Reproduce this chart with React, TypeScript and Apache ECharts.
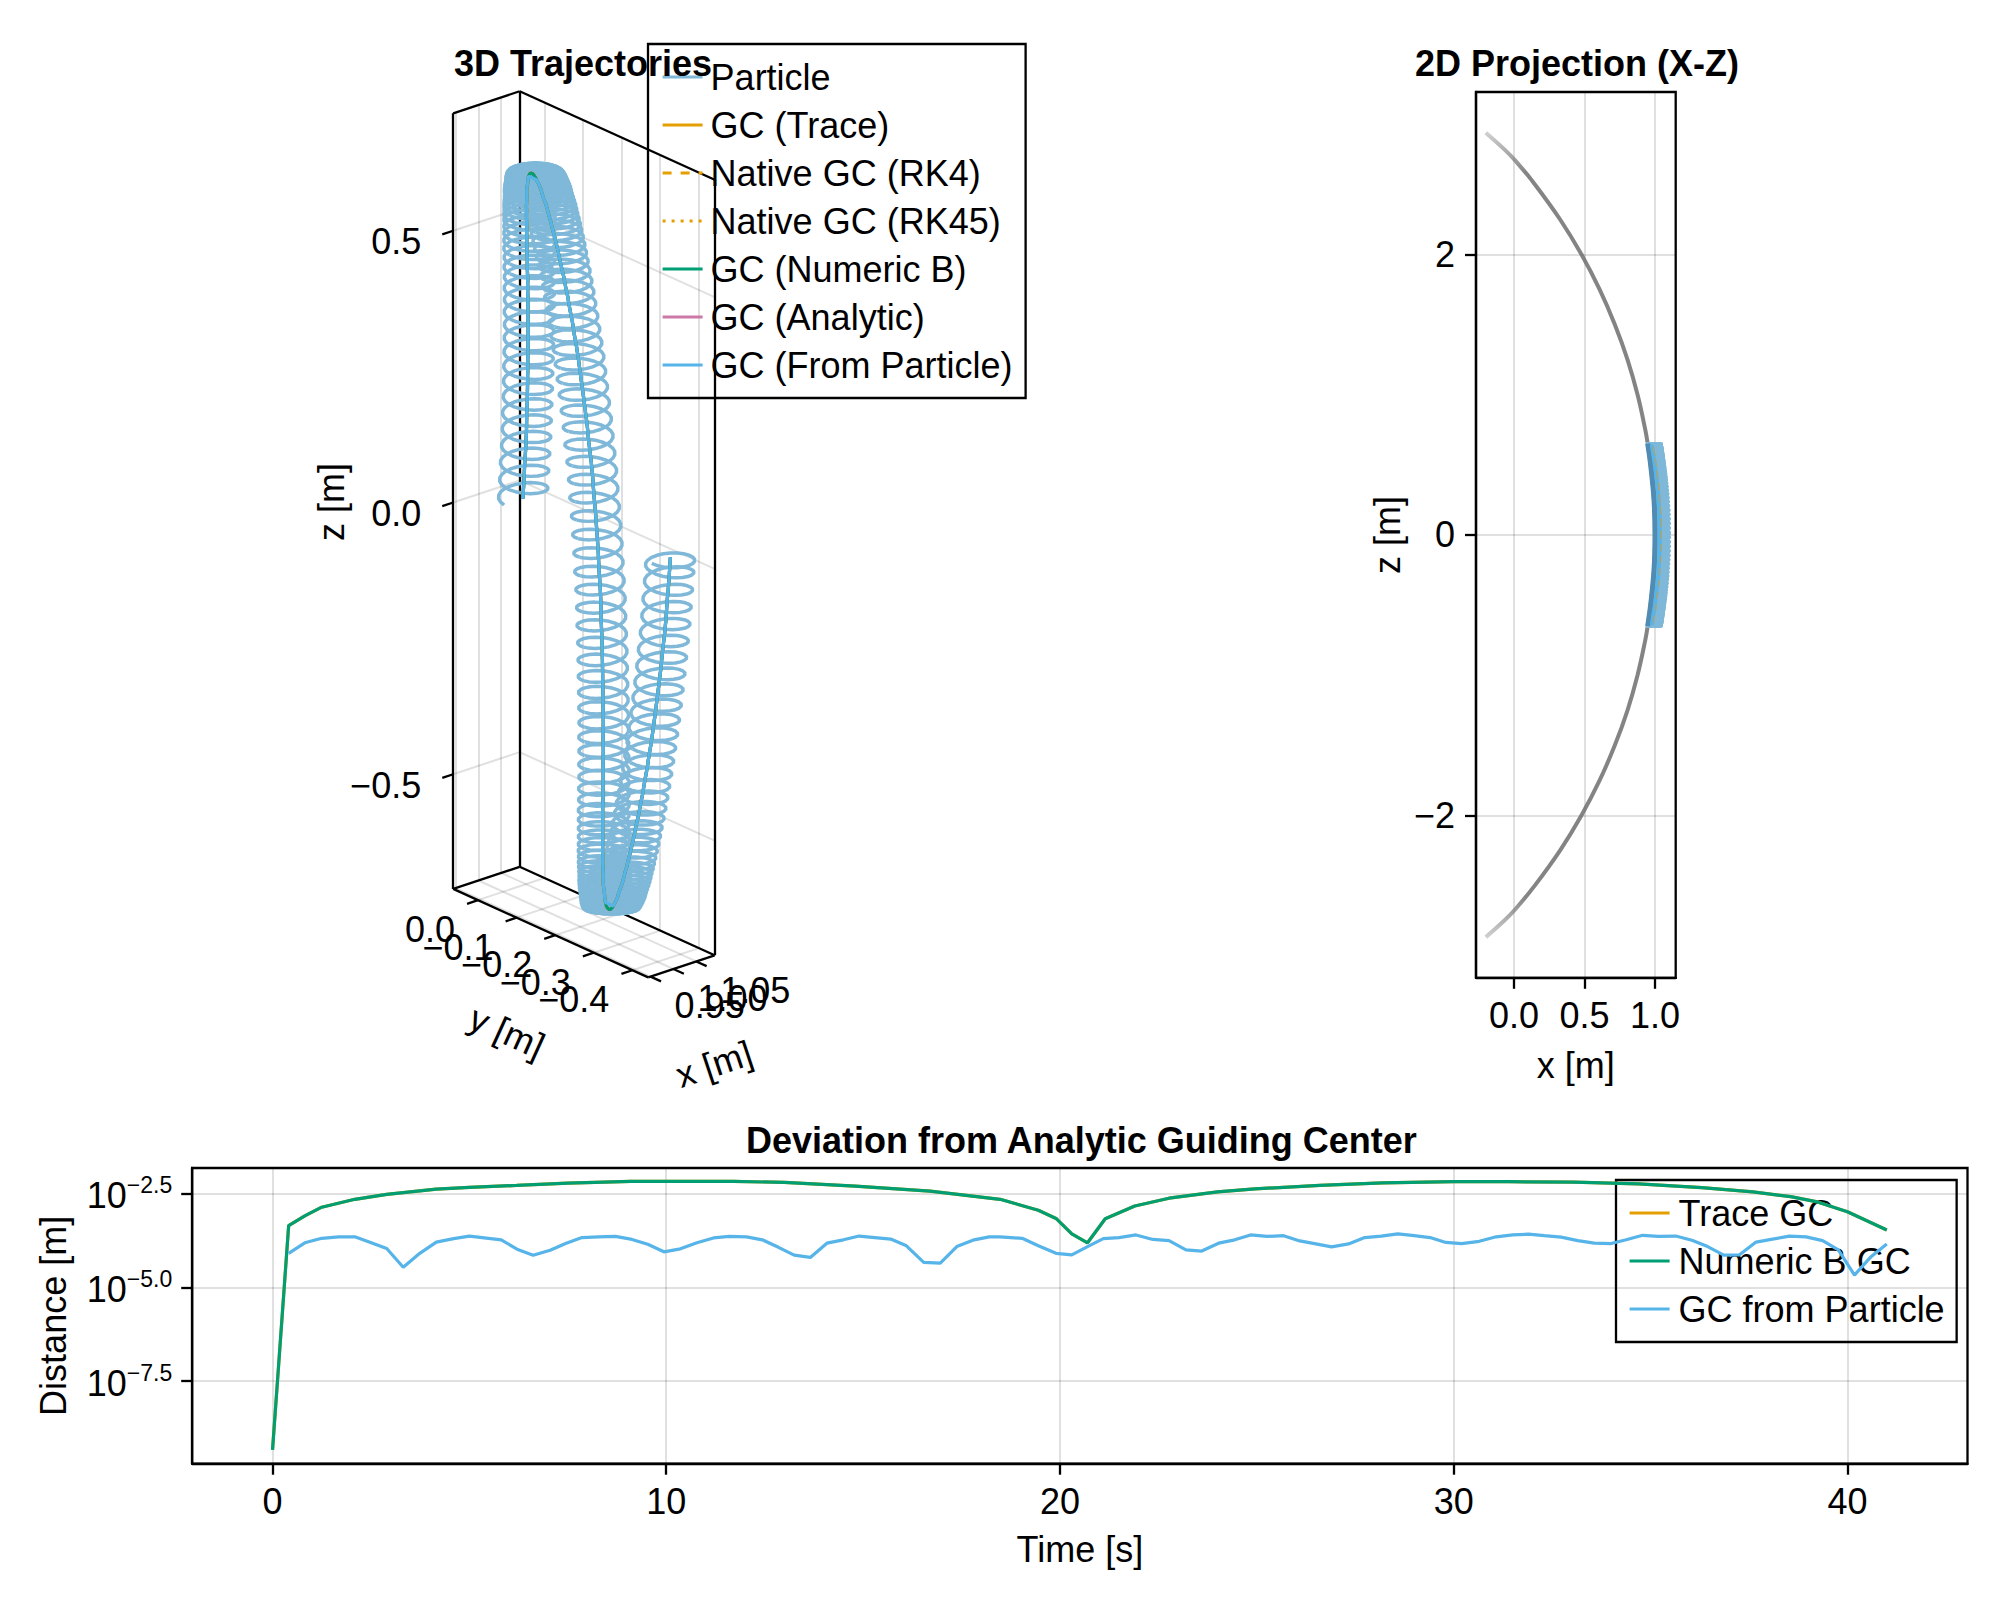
import React, { useEffect, useRef } from "react";
import * as echarts from "echarts";

const FONT = "Liberation Sans";
const PARTICLE = "#7fb8d8";
const ORANGE = "#E69F00";
const GREEN = "#009E73";
const PINK = "#CC79A7";
const SKY = "#56B4E9";
const GRID = "rgba(0,0,0,0.12)";
const SPINE = 2.3;
const LINE = 3.2;

// 3D panel: axis limits and ticks
const xLim = [0.9447, 1.0904];
const yLim = [0.0642, -0.441];
const zLim = [-0.711, 0.716];
const xTicks3D = [0.95, 1.0, 1.05];
const yTicks3D = [0.0, -0.1, -0.2, -0.3, -0.4];
const zTicks3D = [0.5, 0.0, -0.5];

// one entry per gyration: the guiding centre read along the three legs
const leg1X = [1.043,1.043,1.042,1.042,1.041,1.039,1.038,1.036,1.034,1.032,1.03,1.028,1.025,1.023,1.02,1.018,1.015,1.013,1.01,1.008,1.006,1.004,1.002,1,0.999,0.997,0.996,0.995,0.994,0.992,0.991,0.99,0.99,0.989,0.988,0.987,0.986,0.986,0.985,0.985,0.985,0.985,0.985];
const leg1Y = [0,-0.003,-0.006,-0.0089,-0.0119,-0.0148,-0.0177,-0.0206,-0.0234,-0.0262,-0.0289,-0.0317,-0.0343,-0.037,-0.0397,-0.0423,-0.0447,-0.0472,-0.0496,-0.0518,-0.054,-0.0562,-0.0583,-0.0602,-0.0619,-0.0637,-0.0653,-0.067,-0.0685,-0.0702,-0.0718,-0.0735,-0.075,-0.0767,-0.0785,-0.0802,-0.0822,-0.084,-0.0855,-0.0874,-0.0885,-0.0902,-0.092];
const leg1Z = [0,0.033,0.066,0.098,0.13,0.161,0.192,0.222,0.251,0.279,0.306,0.332,0.357,0.381,0.404,0.426,0.446,0.465,0.483,0.499,0.514,0.528,0.541,0.552,0.562,0.571,0.579,0.587,0.594,0.601,0.607,0.613,0.618,0.623,0.628,0.632,0.636,0.639,0.641,0.643,0.644,0.6445,0.645];

const leg2X = [0.985,0.985,0.985,0.985,0.986,0.986,0.987,0.988,0.989,0.99,0.99,0.991,0.992,0.994,0.995,0.996,0.997,0.999,1,1.002,1.004,1.006,1.008,1.01,1.013,1.015,1.018,1.02,1.023,1.025,1.028,1.03,1.032,1.034,1.036,1.038,1.039,1.041,1.042,1.042,1.043,1.043,
  1.043,1.042,1.042,1.041,1.039,1.038,1.036,1.034,1.032,1.03,1.028,1.025,1.023,1.02,1.018,1.015,1.013,1.01,1.008,1.006,1.004,1.002,1,0.999,0.997,0.996,0.995,0.994,0.992,0.991,0.99,0.99,0.989,0.988,0.987,0.986,0.986,0.985,0.985,0.985,0.985,0.985];
const leg2Y = [-0.094,-0.0958,-0.097,-0.0991,-0.1007,-0.1027,-0.1048,-0.1067,-0.1086,-0.1105,-0.1121,-0.114,-0.1157,-0.1175,-0.1192,-0.121,-0.1228,-0.1247,-0.1266,-0.1286,-0.1309,-0.1333,-0.1357,-0.1381,-0.1407,-0.1434,-0.146,-0.1488,-0.1518,-0.1547,-0.1576,-0.1606,-0.1635,-0.1666,-0.1696,-0.1728,-0.1759,-0.1791,-0.1823,-0.1855,-0.1887,-0.192,
  -0.1953,-0.1985,-0.2017,-0.2049,-0.2081,-0.2112,-0.2144,-0.2174,-0.2205,-0.2234,-0.2264,-0.2293,-0.2322,-0.2352,-0.238,-0.2406,-0.2433,-0.2459,-0.2483,-0.2507,-0.2531,-0.2554,-0.2574,-0.2593,-0.2612,-0.263,-0.2648,-0.2665,-0.2683,-0.27,-0.2719,-0.2735,-0.2754,-0.2773,-0.2792,-0.2813,-0.2833,-0.2849,-0.287,-0.2882,-0.29,-0.292];
const leg2Z = [0.6445,0.644,0.643,0.641,0.639,0.636,0.632,0.628,0.623,0.618,0.613,0.607,0.601,0.594,0.587,0.579,0.571,0.562,0.552,0.541,0.528,0.514,0.499,0.483,0.465,0.446,0.426,0.404,0.381,0.357,0.332,0.306,0.279,0.251,0.222,0.192,0.161,0.13,0.098,0.066,0.033,0,
  -0.033,-0.066,-0.098,-0.13,-0.161,-0.192,-0.222,-0.251,-0.279,-0.306,-0.332,-0.357,-0.381,-0.404,-0.426,-0.446,-0.465,-0.483,-0.499,-0.514,-0.528,-0.541,-0.552,-0.562,-0.571,-0.579,-0.587,-0.594,-0.601,-0.607,-0.613,-0.618,-0.623,-0.628,-0.632,-0.636,-0.639,-0.641,-0.643,-0.644,-0.6445,-0.645];

const leg3X = [0.985,0.985,0.985,0.985,0.986,0.986,0.987,0.988,0.989,0.99,0.99,0.991,0.992,0.994,0.995,0.996,0.997,0.999,1,1.002,1.004,1.006,1.008,1.01,1.013,1.015,1.018,1.02,1.023,1.025,1.028,1.03,1.032,1.034,1.036,1.038,1.039,1.041,1.042,1.042,1.043,1.043,1.043];
const leg3Y = [-0.2938,-0.2954,-0.2965,-0.2983,-0.2998,-0.3015,-0.3034,-0.3051,-0.3068,-0.3085,-0.3099,-0.3116,-0.3131,-0.3148,-0.3162,-0.3179,-0.3194,-0.3211,-0.3228,-0.3246,-0.3267,-0.3288,-0.3309,-0.333,-0.3354,-0.3378,-0.3401,-0.3426,-0.3452,-0.3478,-0.3503,-0.3531,-0.3557,-0.3584,-0.3611,-0.3639,-0.3667,-0.3695,-0.3724,-0.3752,-0.3781,-0.381,-0.3825];
const leg3Z = [-0.6445,-0.644,-0.643,-0.641,-0.639,-0.636,-0.632,-0.628,-0.623,-0.618,-0.613,-0.607,-0.601,-0.594,-0.587,-0.579,-0.571,-0.562,-0.552,-0.541,-0.528,-0.514,-0.499,-0.483,-0.465,-0.446,-0.426,-0.404,-0.381,-0.357,-0.332,-0.306,-0.279,-0.251,-0.222,-0.192,-0.161,-0.13,-0.098,-0.066,-0.033,0,0.016];

// X-Z panel: field line
const fieldX = [-0.2,-0.07,0.008,0.147,0.326,0.478,0.607,0.715,0.805,0.876,0.931,0.948,0.969,0.993,1,0.993,0.969,0.948,0.931,0.876,0.805,0.715,0.607,0.478,0.326,0.147,0.008,-0.07,-0.2];
const fieldZ = [2.867,2.75,2.67,2.5,2.25,2,1.75,1.5,1.25,1,0.75,0.65,0.5,0.25,0,-0.25,-0.5,-0.65,-0.75,-1,-1.25,-1.5,-1.75,-2,-2.25,-2.5,-2.67,-2.75,-2.867];
const xzXTicks = [0, 0.5, 1];
const xzZTicks = [-2, 0, 2];

// deviation panel, log10 of the distance
const numericT = [0,0.41,0.82,1.25,2.09,2.9,4.16,5,6.2,7.5,9.1,10,11.7,13,14.8,16.7,18.48,19.45,19.9,20.3,20.7,21.15,21.9,22.77,24,24.95,26.6,28.2,30,31.4,33.05,34.7,36.3,37.6,38.56,39.2,40,41];
const numericLog = [-9.33,-3.35,-3.09,-2.86,-2.65,-2.52,-2.38,-2.33,-2.28,-2.22,-2.17,-2.17,-2.17,-2.2,-2.3,-2.43,-2.65,-2.94,-3.16,-3.57,-3.81,-3.17,-2.83,-2.62,-2.45,-2.37,-2.28,-2.21,-2.18,-2.18,-2.19,-2.24,-2.34,-2.45,-2.58,-2.71,-2.98,-3.47];
const fromParticleT = [0.41,0.82,1.25,1.68,2.09,2.49,2.9,3.32,3.74,4.16,4.6,5,5.81,6.21,6.62,7.05,7.46,7.86,8.28,8.71,9.13,9.53,9.94,10.36,10.78,11.2,11.6,12.04,12.44,12.85,13.25,13.66,14.08,14.5,14.9,15.7,16.1,16.54,16.96,17.38,17.82,18.2,18.48,19.04,19.45,19.9,20.3,20.7,21.1,21.5,21.93,22.36,22.77,23.2,23.6,24.03,24.44,24.84,25.26,25.68,26.09,26.5,26.9,27.33,27.74,28.16,28.58,29,29.4,29.8,30.2,30.65,31.08,31.5,31.9,32.3,32.73,33.15,33.57,34,34.38,34.8,35.2,35.64,36.05,36.45,36.86,37.26,37.68,38.1,38.53,38.95,39.37,39.77,40.18,40.6,41];
const fromParticleLog = [-4.09,-3.81,-3.69,-3.65,-3.65,-3.8,-3.96,-4.46,-4.09,-3.79,-3.7,-3.63,-3.73,-3.98,-4.14,-4.01,-3.82,-3.67,-3.65,-3.64,-3.72,-3.85,-4.05,-3.97,-3.81,-3.68,-3.64,-3.65,-3.73,-3.93,-4.14,-4.2,-3.82,-3.73,-3.63,-3.71,-3.89,-4.33,-4.35,-3.91,-3.73,-3.65,-3.65,-3.69,-3.89,-4.09,-4.13,-3.91,-3.7,-3.67,-3.6,-3.72,-3.75,-4,-4.03,-3.82,-3.73,-3.6,-3.64,-3.62,-3.76,-3.84,-3.92,-3.84,-3.67,-3.63,-3.57,-3.62,-3.67,-3.8,-3.83,-3.77,-3.65,-3.6,-3.58,-3.62,-3.66,-3.75,-3.82,-3.83,-3.73,-3.61,-3.64,-3.63,-3.74,-3.91,-4.14,-4.13,-3.79,-3.71,-3.63,-3.65,-3.75,-4,-4.67,-4.18,-3.84];
const devTimeTicks = [0, 10, 20, 30, 40];
const devLogTicks = [-7.5, -5, -2.5];

const ringX = [...leg1X, ...leg2X, ...leg3X];
const ringY = [...leg1Y, ...leg2Y, ...leg3Y];
const ringZ = [...leg1Z, ...leg2Z, ...leg3Z];

// the orthographic camera of the 3D panel, in page pixels
function project(x: number, y: number, z: number): [number, number] {
  const dx = x - xLim[0];
  const dy = yLim[0] - y;
  const dz = z - zLim[0];
  return [453.2 + dy * 386 + dx * 456, 888.9 + dy * 175.2 - dx * 151.7 - dz * 543.5];
}

const ringCount = ringX.length;
const STEPS = 22;

function renderRing3D(params: any, api: any) {
  const i = params.dataIndex;
  if (i >= ringCount - 1) return null;
  const pts: number[][] = [];
  for (let s = 0; s <= STEPS; s++) {
    const f = s / STEPS;
    const a = 2 * Math.PI * f;
    const cz = ringZ[i] + (ringZ[i + 1] - ringZ[i]) * f;
    const u = (cz / 0.645) * (cz / 0.645);
    const cx = ringX[i] + (ringX[i + 1] - ringX[i]) * f + (cz > 0 ? 0.009 : 0.004) * u;
    const cy = ringY[i] + (ringY[i + 1] - ringY[i]) * f;
    const r = 0.041 + 0.003 * u;
    const squash = cz > 0 ? 1 - 0.15 * u : 1 - 0.5 * u * u * u;
    const c = project(cx, cy, cz);
    const q = project(cx - r * Math.cos(a), cy + r * Math.sin(a), cz);
    pts.push(api.coord([q[0], c[1] + (q[1] - c[1]) * squash]));
  }
  return { type: "polyline", shape: { points: pts }, style: { fill: "none", stroke: PARTICLE, lineWidth: 3.5, lineJoin: "round" } };
}

function renderRingXZ(params: any, api: any) {
  const i = params.dataIndex;
  if (i >= ringCount - 1) return null;
  const pts: number[][] = [];
  for (let s = 0; s <= STEPS; s++) {
    const f = s / STEPS;
    const a = 2 * Math.PI * f;
    const cx = ringX[i] + (ringX[i + 1] - ringX[i]) * f;
    const cz = ringZ[i] + (ringZ[i + 1] - ringZ[i]) * f;
    pts.push(api.coord([cx + 0.005 - 0.05 * Math.cos(a), cz]));
  }
  return { type: "polyline", shape: { points: pts }, style: { fill: "none", stroke: PARTICLE, lineWidth: 4.5, lineJoin: "round" } };
}

const seg = (a: number[], b: number[]) => ({
  coords: [project(a[0], a[1], a[2]), project(b[0], b[1], b[2])],
});

function gridSegments() {
  const [x0, x1] = xLim;
  const [y0, y1] = yLim;
  const [z0, z1] = zLim;
  const out: any[] = [];
  xTicks3D.forEach((x) => {
    out.push(seg([x, y0, z0], [x, y0, z1]), seg([x, y0, z0], [x, y1, z0]));
  });
  yTicks3D.forEach((y) => {
    out.push(seg([x1, y, z0], [x1, y, z1]), seg([x0, y, z0], [x1, y, z0]));
  });
  zTicks3D.forEach((z) => {
    out.push(seg([x0, y0, z], [x1, y0, z]), seg([x1, y0, z], [x1, y1, z]));
  });
  return out;
}

function frameSegments() {
  const [x0, x1] = xLim;
  const [y0, y1] = yLim;
  const [z0, z1] = zLim;
  return [
    seg([x0, y0, z0], [x0, y0, z1]),
    seg([x1, y0, z0], [x1, y0, z1]),
    seg([x1, y1, z0], [x1, y1, z1]),
    seg([x0, y0, z1], [x1, y0, z1]),
    seg([x1, y0, z1], [x1, y1, z1]),
    seg([x0, y0, z0], [x1, y0, z0]),
    seg([x1, y0, z0], [x1, y1, z0]),
    seg([x0, y0, z0], [x0, y1, z0]),
    seg([x0, y1, z0], [x1, y1, z0]),
  ];
}

function tickSegments() {
  const [x0] = xLim;
  const [y0, y1] = yLim;
  const [z0] = zLim;
  const out: any[] = [];
  zTicks3D.forEach((z) => out.push(seg([x0, y0, z], [x0 - 0.024, y0, z])));
  yTicks3D.forEach((y) => out.push(seg([x0, y, z0], [x0 - 0.024, y, z0])));
  xTicks3D.forEach((x) => out.push(seg([x, y1, z0], [x, y1 - 0.027, z0])));
  return out;
}

const minusText = (s: string) => s.replace("-", "\u2212");

function labels3D() {
  const [x0] = xLim;
  const [y0, y1] = yLim;
  const [z0] = zLim;
  const text = (t: string, p: number[], align: string, rotation = 0) => ({
    type: "text",
    x: p[0],
    y: p[1],
    rotation,
    z: 20,
    style: { text: t, fill: "#000", font: `36px "${FONT}"`, align, verticalAlign: "middle" },
  });
  const out: any[] = [];
  zTicks3D.forEach((z) => {
    const p = project(x0, y0, z);
    out.push(text(minusText(z.toFixed(1)), [p[0] - 32, p[1] + 11], "right"));
  });
  yTicks3D.forEach((y) => {
    const p = project(x0, y, z0);
    out.push(text(minusText(y.toFixed(1)), [p[0] - 23, p[1] + 29.5], "right"));
  });
  xTicks3D.forEach((x) => {
    const p = project(x, y1, z0);
    out.push(text(x.toFixed(2), [p[0] + 24, p[1] + 29], "left"));
  });
  out.push(text("y [m]", [507, 1032], "center", -0.426));
  out.push(text("x [m]", [714, 1064], "center", 0.32));
  out.push(text("z [m]", [331, 502], "center", Math.PI / 2));
  return out;
}

const axisText = { fontFamily: FONT, fontSize: 36, color: "#000" };
const tickStyle = { show: true, length: 11, lineStyle: { color: "#000", width: SPINE } };
const axisLine = { show: true, onZero: false, lineStyle: { color: "#000", width: SPINE } };
const lineOf = (name: string, data: any[], color: string, z: number, extra: any = {}) => ({
  name,
  type: "line",
  xAxisIndex: 0,
  yAxisIndex: 0,
  data,
  showSymbol: false,
  symbol: "none",
  clip: false,
  silent: true,
  z,
  lineStyle: { color, width: LINE, ...extra },
  itemStyle: { color },
});

export default function App() {
  const ref = useRef<HTMLDivElement>(null);
  useEffect(() => {
    document.body.style.margin = "0";
    const chart = echarts.init(ref.current!, undefined, { renderer: "svg" });
    const gc3D = ringX.map((x, i) => project(x, ringY[i], ringZ[i]));
    const gcSmoothed = gc3D.filter((_, i) => Math.abs(ringZ[i]) <= 0.636);
    const gcXZ = ringX.map((x, i) => [x, ringZ[i]]);
    const gcFromParticleXZ = ringX.map((x, i) => [x - 0.009, ringZ[i]]);
    const ringRows = ringX.map((x, i) => [x, ringZ[i], ringY[i]]);
    const numeric = numericT.map((t, i) => [t, numericLog[i]]);
    const fromParticle = fromParticleT.map((t, i) => [t, fromParticleLog[i]]);
    const field = fieldX.map((x, i) => [x, fieldZ[i]]);
    const fieldInBand = field.filter((p) => Math.abs(p[1]) <= 0.65);
    const option: any = {
      animation: false,
      backgroundColor: "#fff",
      textStyle: { fontFamily: FONT },
      title: [
        { text: "3D Trajectories", left: 454, top: 45, padding: 0, textStyle: { ...axisText, fontWeight: "bold" } },
        { text: "2D Projection (X-Z)", left: 1415, top: 45, padding: 0, textStyle: { ...axisText, fontWeight: "bold" } },
        { text: "Deviation from Analytic Guiding Center", left: 746, top: 1122, padding: 0, textStyle: { ...axisText, fontWeight: "bold" } },
      ],
      legend: [
        {
          left: 648,
          top: 44,
          orient: "vertical",
          padding: [15, 13, 15, 13],
          itemGap: 12,
          itemWidth: 40,
          itemHeight: 36,
          borderColor: "#000",
          borderWidth: SPINE,
          selectedMode: false,
          itemStyle: { opacity: 0 },
          lineStyle: { width: LINE },
          textStyle: { ...axisText, padding: [0, 0, 0, 3] },
          data: [
            { name: "Particle", icon: "path://M0 0H40V3H0Z", itemStyle: { color: PARTICLE, opacity: 1 } },
            "GC (Trace)",
            "Native GC (RK4)",
            "Native GC (RK45)",
            "GC (Numeric B)",
            "GC (Analytic)",
            "GC (From Particle)",
          ],
        },
        {
          left: 1616,
          top: 1180,
          orient: "vertical",
          padding: [15, 12, 15, 12],
          itemGap: 12,
          itemWidth: 40,
          itemHeight: 36,
          borderColor: "#000",
          borderWidth: SPINE,
          selectedMode: false,
          itemStyle: { opacity: 0 },
          lineStyle: { width: LINE },
          textStyle: { ...axisText, padding: [0, 0, 0, 4] },
          data: ["Trace GC", "Numeric B GC", "GC from Particle"],
        },
      ],
      grid: [
        { left: 0, top: 0, width: 2000, height: 1600, show: false },
        { left: 1476, top: 92, width: 199.7, height: 885.8, show: true, borderColor: "#000", borderWidth: SPINE, backgroundColor: "transparent" },
        { left: 192.2, top: 1168, width: 1775.3, height: 295.7, show: true, borderColor: "#000", borderWidth: SPINE, backgroundColor: "transparent" },
      ],
      xAxis: [
        { gridIndex: 0, type: "value", min: 0, max: 2000, show: false },
        {
          gridIndex: 1,
          type: "value",
          min: -0.2695,
          max: 1.1468,
          name: "x [m]",
          nameLocation: "middle",
          nameGap: 70,
          nameTextStyle: axisText,
          axisLine,
          axisTick: { ...tickStyle, customValues: xzXTicks },
          axisLabel: { ...axisText, margin: 20, customValues: xzXTicks, formatter: (v: number) => v.toFixed(1) },
          splitLine: { show: true, lineStyle: { color: GRID, width: 2 } },
        },
        {
          gridIndex: 2,
          type: "value",
          min: -2.04,
          max: 43.05,
          name: "Time [s]",
          nameLocation: "middle",
          nameGap: 68,
          nameTextStyle: axisText,
          axisLine,
          axisTick: { ...tickStyle, customValues: devTimeTicks },
          axisLabel: { ...axisText, margin: 20, customValues: devTimeTicks, formatter: (v: number) => String(v) },
          splitLine: { show: true, lineStyle: { color: GRID, width: 2 } },
        },
      ],
      yAxis: [
        { gridIndex: 0, type: "value", min: 0, max: 1600, inverse: true, show: false },
        {
          gridIndex: 1,
          type: "value",
          min: -3.157,
          max: 3.157,
          name: "z [m]",
          nameLocation: "middle",
          nameGap: 71,
          nameTextStyle: axisText,
          axisLine,
          axisTick: { ...tickStyle, customValues: xzZTicks },
          axisLabel: { ...axisText, margin: 21, customValues: xzZTicks, formatter: (v: number) => minusText(String(v)) },
          splitLine: { show: true, lineStyle: { color: GRID, width: 2 } },
        },
        {
          gridIndex: 2,
          type: "value",
          min: -9.7,
          max: -1.815,
          name: "Distance [m]",
          nameLocation: "middle",
          nameGap: 121,
          nameTextStyle: axisText,
          axisLine,
          axisTick: { ...tickStyle, customValues: devLogTicks },
          axisLabel: {
            margin: 20,
            customValues: devLogTicks,
            formatter: (v: number) => `{b|10}{s|\u2212${Math.abs(v).toFixed(1)}}`,
            rich: {
              b: { fontFamily: FONT, fontSize: 36, lineHeight: 40, color: "#000", verticalAlign: "bottom" },
              s: { fontFamily: FONT, fontSize: 23, lineHeight: 23, color: "#000", verticalAlign: "top" },
            },
          },
          splitLine: { show: true, lineStyle: { color: GRID, width: 2 } },
        },
      ],
      graphic: labels3D(),
      series: [
        { name: "box grid", type: "lines", coordinateSystem: "cartesian2d", xAxisIndex: 0, yAxisIndex: 0, silent: true, z: 1, data: gridSegments(), lineStyle: { color: GRID, width: 2, opacity: 1, curveness: 0 } },
        { name: "box frame", type: "lines", coordinateSystem: "cartesian2d", xAxisIndex: 0, yAxisIndex: 0, silent: true, z: 2, data: frameSegments(), lineStyle: { color: "#000", width: SPINE, opacity: 1 } },
        { name: "box ticks", type: "lines", coordinateSystem: "cartesian2d", xAxisIndex: 0, yAxisIndex: 0, silent: true, z: 2, data: tickSegments(), lineStyle: { color: "#000", width: SPINE, opacity: 1 } },
        { name: "Particle", type: "custom", xAxisIndex: 0, yAxisIndex: 0, coordinateSystem: "cartesian2d", renderItem: renderRing3D, data: ringRows, silent: true, clip: false, z: 3, itemStyle: { color: PARTICLE } },
        lineOf("GC (Trace)", gc3D, ORANGE, 4),
        lineOf("Native GC (RK4)", gc3D, ORANGE, 4, { type: [9, 9] }),
        lineOf("Native GC (RK45)", gc3D, ORANGE, 4, { type: [3, 6] }),
        lineOf("GC (Analytic)", gc3D, PINK, 4),
        lineOf("GC (Numeric B)", gc3D, GREEN, 4),
        lineOf("GC (From Particle)", gcSmoothed, SKY, 5),
        // X-Z projection
        {
          name: "field line",
          type: "line",
          xAxisIndex: 1,
          yAxisIndex: 1,
          data: field,
          smooth: 0.4,
          showSymbol: false,
          symbol: "none",
          silent: true,
          z: 3,
          lineStyle: {
            width: 4,
            color: new echarts.graphic.LinearGradient(0, 0, 0, 1, [
              { offset: 0, color: "rgba(120,120,120,0.35)" },
              { offset: 0.05, color: "rgba(110,110,110,0.85)" },
              { offset: 0.95, color: "rgba(110,110,110,0.85)" },
              { offset: 1, color: "rgba(120,120,120,0.35)" },
            ]),
          },
        },
        { name: "particle x-z", type: "custom", xAxisIndex: 1, yAxisIndex: 1, coordinateSystem: "cartesian2d", renderItem: renderRingXZ, data: ringRows, silent: true, z: 4, itemStyle: { color: PARTICLE } },
        { name: "field line under the band", type: "line", xAxisIndex: 1, yAxisIndex: 1, data: fieldInBand, smooth: 0.4, showSymbol: false, symbol: "none", silent: true, z: 5, lineStyle: { color: "#4f8bb2", width: 5 } },
        { name: "gc from particle x-z", type: "line", xAxisIndex: 1, yAxisIndex: 1, data: gcFromParticleXZ, showSymbol: false, symbol: "none", silent: true, z: 5, lineStyle: { color: SKY, width: 4 } },
        { name: "gc x-z", type: "line", xAxisIndex: 1, yAxisIndex: 1, data: gcXZ, showSymbol: false, symbol: "none", silent: true, z: 6, lineStyle: { color: "rgba(190,160,90,0.8)", width: 1.5, type: [5, 7] } },
        // deviations
        { name: "Trace GC", type: "line", xAxisIndex: 2, yAxisIndex: 2, data: numeric, showSymbol: false, symbol: "none", silent: true, z: 4, lineStyle: { color: ORANGE, width: LINE }, itemStyle: { color: ORANGE } },
        { name: "Numeric B GC", type: "line", xAxisIndex: 2, yAxisIndex: 2, data: numeric, showSymbol: false, symbol: "none", silent: true, z: 4, lineStyle: { color: GREEN, width: LINE }, itemStyle: { color: GREEN } },
        { name: "GC from Particle", type: "line", xAxisIndex: 2, yAxisIndex: 2, data: fromParticle, showSymbol: false, symbol: "none", silent: true, z: 5, lineStyle: { color: SKY, width: LINE }, itemStyle: { color: SKY } },
      ],
    };
    chart.setOption(option);
    return () => chart.dispose();
  }, []);
  return <div ref={ref} style={{ position: "absolute", left: 0, top: 0, width: 2000, height: 1600 }} />;
}
